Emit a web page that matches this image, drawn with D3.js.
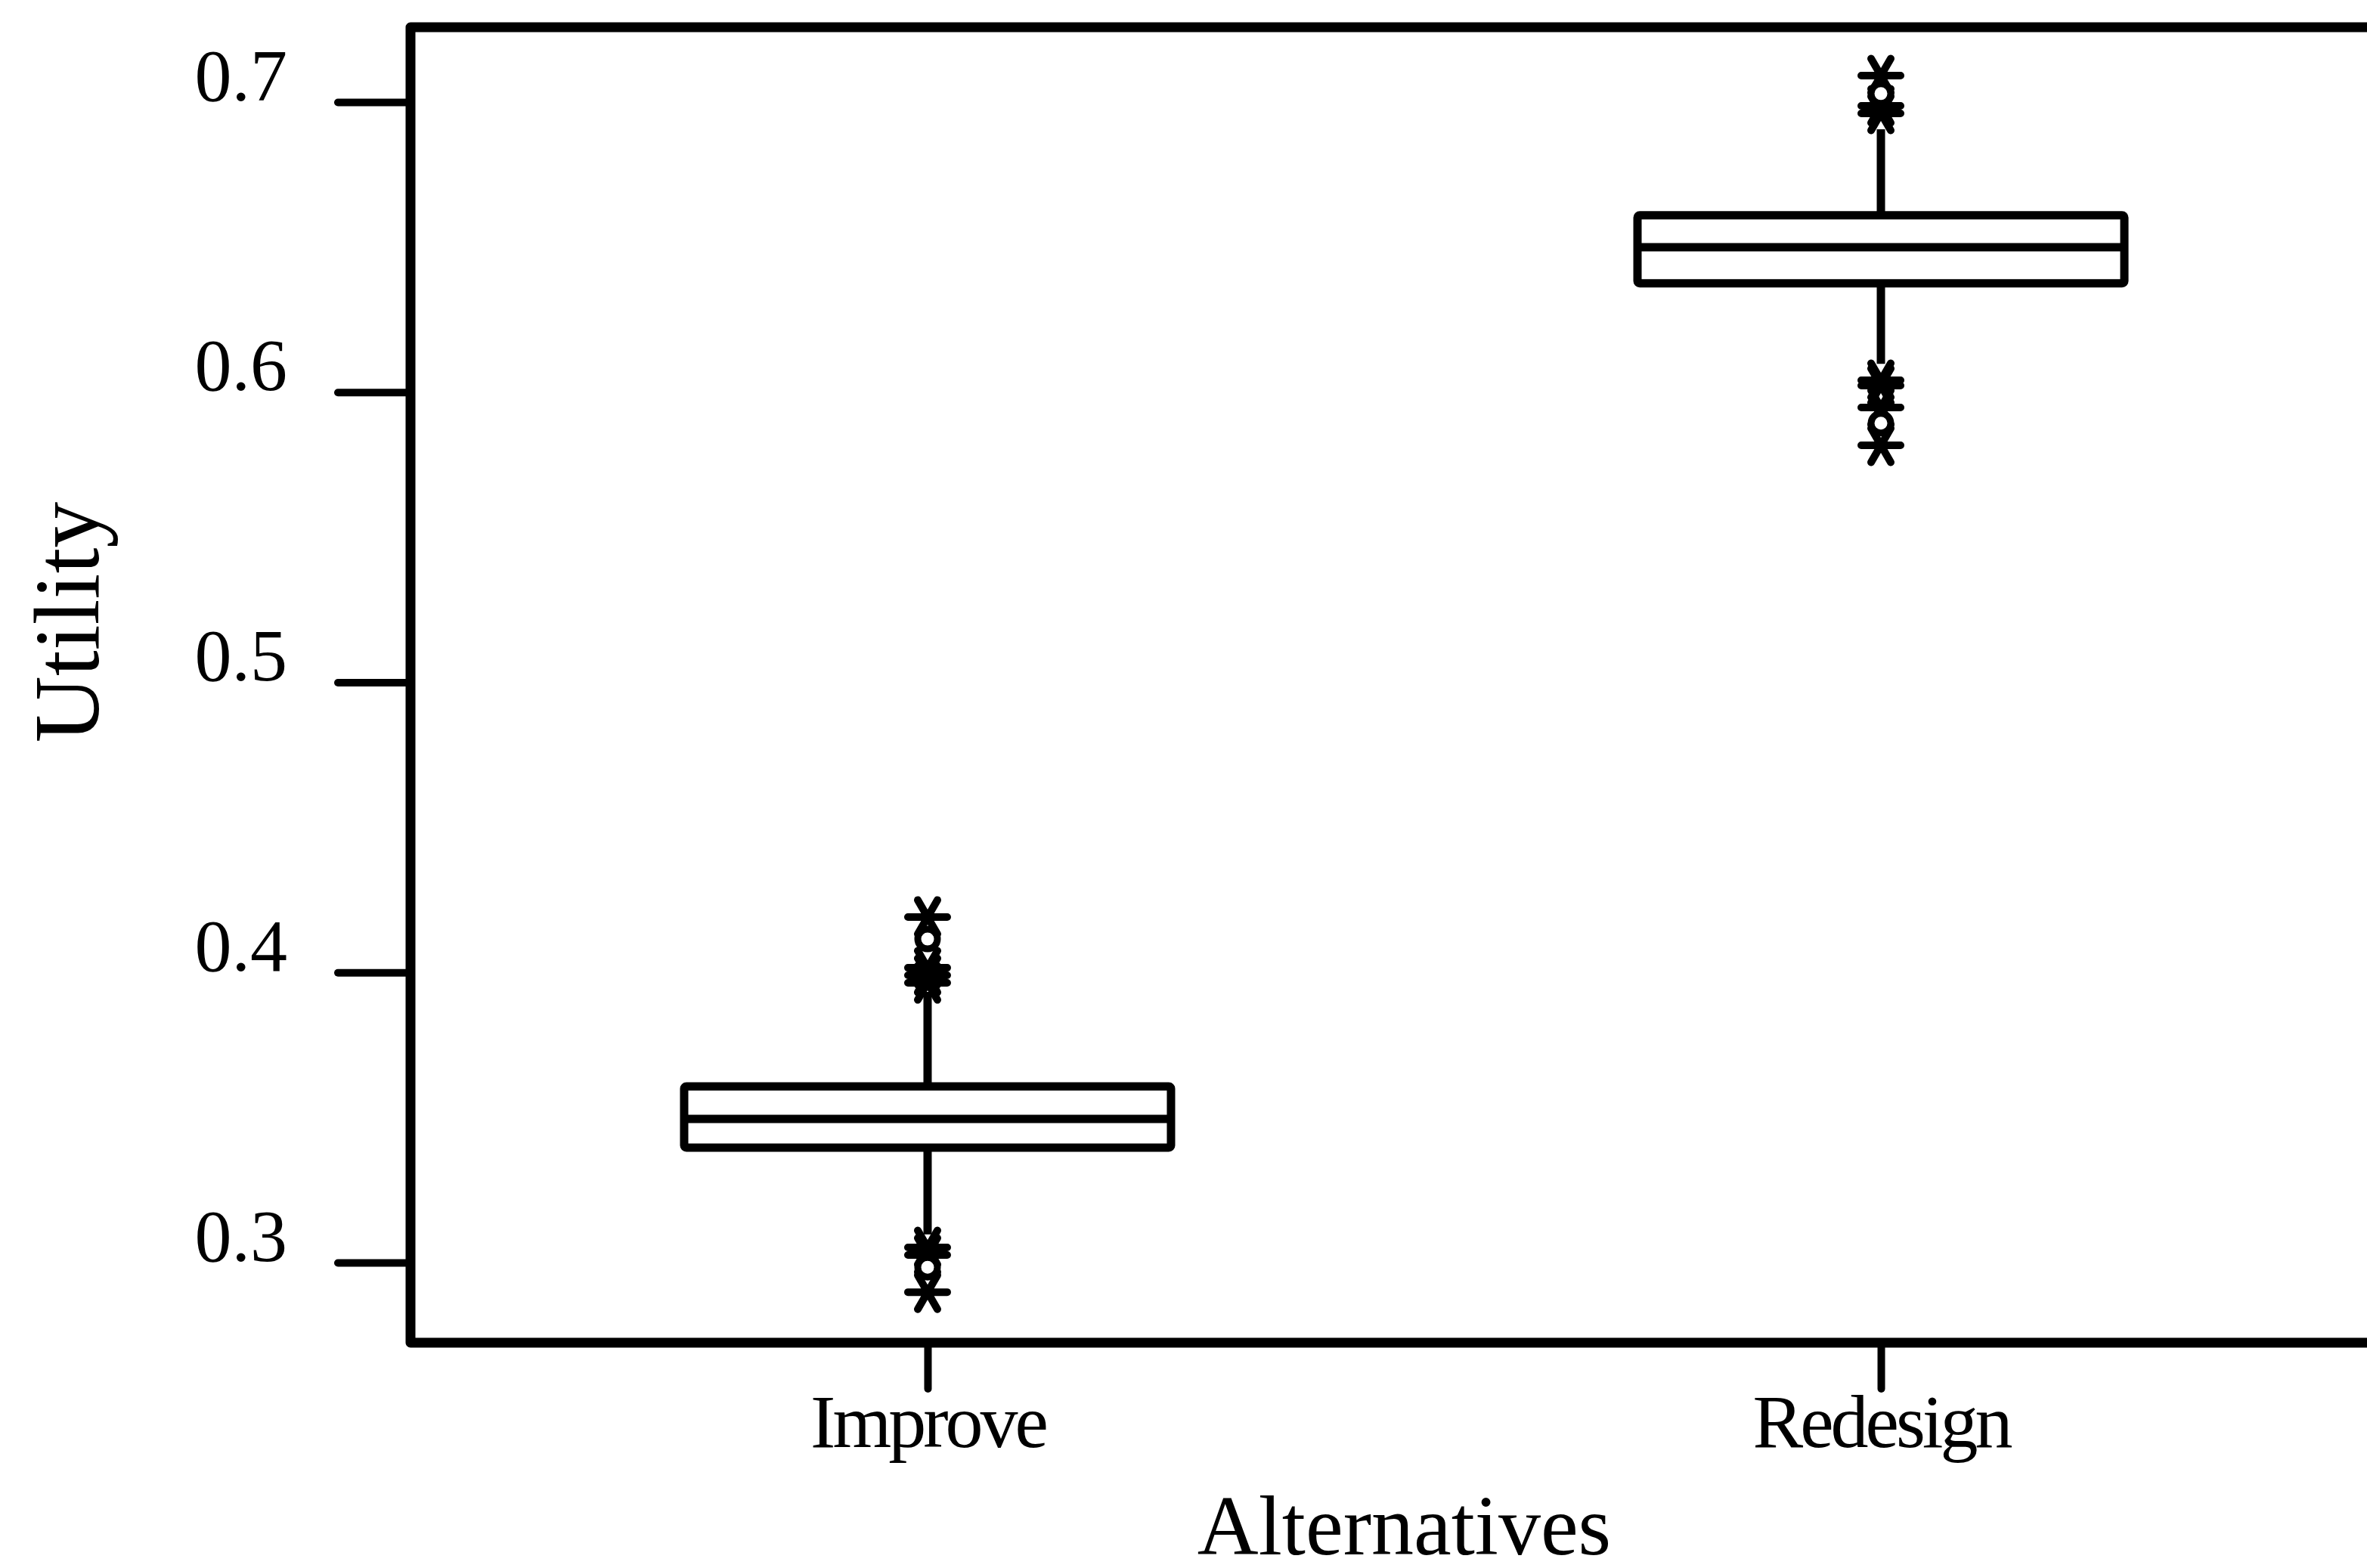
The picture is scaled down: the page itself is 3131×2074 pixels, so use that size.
<!DOCTYPE html>
<html>
<head>
<meta charset="utf-8">
<script src="https://cdn.jsdelivr.net/npm/d3@7"></script>
<style>
  body { margin: 0; background: #fff; }
  text { font-family: "Liberation Serif", "Times New Roman", serif; fill: #000; }
</style>
</head>
<body>
<div id="chart"></div>
<script>
// boxplot of utility per alternative
var categories = ["Improve", "Redesign"];
var q1 = [0.3396, 0.6375];
var median = [0.3495, 0.6500];
var q3 = [0.3607, 0.6610];
var whiskerLow = [0.3097, 0.6098];
var whiskerHigh = [0.3933, 0.6906];
var starOutliers = [
    [0.4191, 0.4016, 0.3990, 0.3964, 0.3052, 0.3026, 0.2898],
    [0.7091, 0.6987, 0.6961, 0.6041, 0.6023, 0.5947, 0.5817]
];
var circleOutliers = [
    [0.4115, 0.2984],
    [0.7029, 0.5893]
];
var yTicks = [0.3, 0.4, 0.5, 0.6, 0.7];

var width = 3131, height = 2074;
var plotLeft = 543, plotTop = 36, plotBottom = 1776, plotRight = 3172;
var boxHalf = 322;

var svg = d3.select("#chart").append("svg")
    .attr("width", width)
    .attr("height", height);

var y = d3.scaleLinear().domain([0.3, 0.7]).range([1670, 135]);
var x = d3.scalePoint().domain(categories).range([plotLeft, plotRight]).padding(0.5424);

// frame (right side runs off the page)
svg.append("path")
    .attr("d", "M" + (plotRight + 20) + "," + plotTop + "H" + plotLeft + "V" + plotBottom + "H" + (plotRight + 20))
    .attr("fill", "none")
    .attr("stroke", "#000")
    .attr("stroke-width", 13)
    .attr("stroke-linejoin", "round");

// y axis
var yAxis = svg.append("g")
    .attr("transform", "translate(" + (plotLeft - 6) + ",0)")
    .call(d3.axisLeft(y).tickValues(yTicks).tickSize(90).tickFormat(d3.format(".1f")));
yAxis.select(".domain").remove();
yAxis.selectAll(".tick line").attr("stroke", "#000").attr("stroke-width", 10).attr("stroke-linecap", "round");
yAxis.selectAll(".tick text")
    .attr("x", -157)
    .attr("dy", "-0.03em")
    .attr("font-size", 98)
    .attr("font-family", "Liberation Serif");

// x axis
var xAxis = svg.append("g")
    .attr("transform", "translate(0," + (plotBottom + 6) + ")")
    .call(d3.axisBottom(x).tickSize(55));
xAxis.select(".domain").remove();
xAxis.selectAll(".tick line").attr("stroke", "#000").attr("stroke-width", 10).attr("stroke-linecap", "round");
xAxis.selectAll(".tick text")
    .attr("y", 132)
    .attr("dy", 0)
    .attr("font-size", 100)
    .attr("letter-spacing", -4)
    .attr("font-family", "Liberation Serif");

// axis titles
svg.append("text")
    .attr("x", (plotLeft + plotRight) / 2)
    .attr("y", 2056)
    .attr("text-anchor", "middle")
    .attr("font-size", 112)
    .text("Alternatives");

svg.append("text")
    .attr("transform", "translate(130,823) rotate(-90)")
    .attr("text-anchor", "middle")
    .attr("font-size", 122)
    .text("Utility");

// boxes
var groups = svg.selectAll("g.box")
    .data(categories)
    .enter().append("g")
    .attr("class", "box")
    .attr("transform", function(d) { return "translate(" + x(d) + ",0)"; });

groups.append("line")
    .attr("y1", function(d, i) { return y(whiskerHigh[i]); })
    .attr("y2", function(d, i) { return y(q3[i]); })
    .attr("stroke", "#000").attr("stroke-width", 11);
groups.append("line")
    .attr("y1", function(d, i) { return y(q1[i]); })
    .attr("y2", function(d, i) { return y(whiskerLow[i]); })
    .attr("stroke", "#000").attr("stroke-width", 11);

groups.append("rect")
    .attr("x", -boxHalf)
    .attr("width", boxHalf * 2)
    .attr("y", function(d, i) { return y(q3[i]); })
    .attr("height", function(d, i) { return y(q1[i]) - y(q3[i]); })
    .attr("fill", "#fff")
    .attr("stroke", "#000")
    .attr("stroke-width", 11)
    .attr("rx", 3);

groups.append("line")
    .attr("x1", -boxHalf).attr("x2", boxHalf)
    .attr("y1", function(d, i) { return y(median[i]); })
    .attr("y2", function(d, i) { return y(median[i]); })
    .attr("stroke", "#000").attr("stroke-width", 11);

// outliers
var star = "M-26,0H26M-13,-22.5L13,22.5M13,-22.5L-13,22.5";
groups.selectAll("path.star")
    .data(function(d, i) { return starOutliers[i]; })
    .enter().append("path")
    .attr("class", "star")
    .attr("d", star)
    .attr("transform", function(v) { return "translate(0," + y(v) + ")"; })
    .attr("stroke", "#000")
    .attr("stroke-width", 10)
    .attr("stroke-linecap", "round");

groups.selectAll("circle.out")
    .data(function(d, i) { return circleOutliers[i]; })
    .enter().append("circle")
    .attr("class", "out")
    .attr("r", 13)
    .attr("cy", function(v) { return y(v); })
    .attr("fill", "#fff")
    .attr("stroke", "#000")
    .attr("stroke-width", 9);
</script>
</body>
</html>
